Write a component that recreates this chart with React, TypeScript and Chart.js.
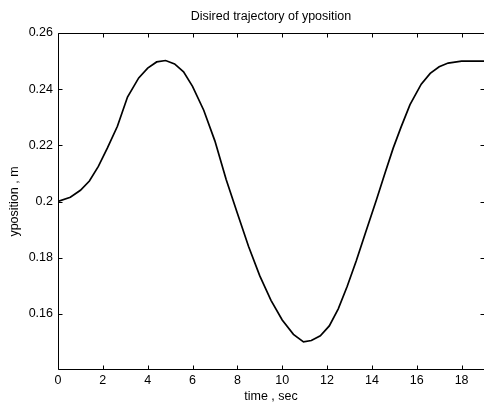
import React, { useEffect, useRef } from 'react';
import { Chart, registerables } from 'chart.js';

Chart.register(...registerables);

// ---- data ----
const timeSec = [
  0, 0.55, 1.0, 1.4, 1.8, 2.2, 2.65, 3.1, 3.6, 4.0, 4.4, 4.8, 5.2, 5.6,
  6.0, 6.5, 7.0, 7.5, 8.0, 8.5, 9.0, 9.5, 10.0, 10.5, 10.95, 11.3, 11.7,
  12.1, 12.5, 12.9, 13.3, 13.7, 14.2, 14.6, 14.95, 15.3, 15.7, 16.2, 16.6,
  17.0, 17.4, 18.0, 19.0,
];
const yPosition = [
  0.2, 0.2015, 0.204, 0.2073, 0.2125, 0.219, 0.2268, 0.2372, 0.244, 0.2475,
  0.2497, 0.2502, 0.249, 0.2462, 0.241, 0.2325, 0.2215, 0.2078, 0.1958,
  0.184, 0.1735, 0.1648, 0.1578, 0.1527, 0.15, 0.1505, 0.1522, 0.1557,
  0.1618, 0.1698, 0.1788, 0.1885, 0.2005, 0.2105, 0.219, 0.2265, 0.2345,
  0.2418, 0.2456, 0.248, 0.2493, 0.25, 0.25,
];
const xTicks = [0, 2, 4, 6, 8, 10, 12, 14, 16, 18];
const yTicks = [0.16, 0.18, 0.2, 0.22, 0.24, 0.26];
const titleText = 'Disired trajectory of yposition';
const xTitle = 'time , sec';
const yTitle = 'yposition , m';

const FONT = '"Liberation Sans", Arial, Helvetica, sans-serif';
const FS = 12.5;

const boxPlugin = {
  id: 'matlabBox',
  afterDraw(chart: any) {
    const { ctx, chartArea, scales } = chart;
    const { left, right, top, bottom } = chartArea;
    const L = Math.round(left) + 0.5;
    const R = Math.round(right) + 0.5;
    const T = Math.round(top) + 0.5;
    const B = Math.round(bottom) - 0.5;
    ctx.save();
    ctx.strokeStyle = '#000';
    ctx.lineWidth = 1;
    ctx.beginPath();
    ctx.moveTo(L, T); ctx.lineTo(R, T);
    ctx.moveTo(L, B); ctx.lineTo(R, B);
    ctx.moveTo(L, T); ctx.lineTo(L, B);
    ctx.moveTo(R, T); ctx.lineTo(R, B);
    const tl = 4;
    xTicks.forEach((v) => {
      const px = Math.round(scales.x.getPixelForValue(v)) + 0.5;
      ctx.moveTo(px, B); ctx.lineTo(px, B - tl);
      ctx.moveTo(px, T); ctx.lineTo(px, T + tl);
    });
    yTicks.forEach((v) => {
      const py = Math.round(scales.y.getPixelForValue(v)) + 0.5;
      ctx.moveTo(L, py); ctx.lineTo(L + tl, py);
      ctx.moveTo(R, py); ctx.lineTo(R - tl, py);
    });
    ctx.stroke();
    ctx.fillStyle = '#000';
    ctx.font = `${FS}px ${FONT}`;
    ctx.textAlign = 'center';
    ctx.textBaseline = 'middle';
    ctx.fillText(titleText, (left + right) / 2, 17);
    ctx.restore();
  },
};

export default function App() {
  const ref = useRef<HTMLCanvasElement | null>(null);
  useEffect(() => {
    if (!ref.current) return;
    const chart = new Chart(ref.current, {
      type: 'line',
      data: {
        datasets: [
          {
            data: timeSec.map((t, i) => ({ x: t, y: yPosition[i] })),
            borderColor: '#000',
            borderWidth: 1.7,
            pointRadius: 0,
            tension: 0,
            fill: false,
          },
        ],
      },
      options: {
        responsive: false,
        animation: false,
        layout: { padding: { top: 33, right: 0, bottom: 0, left: 0 } },
        plugins: {
          legend: { display: false },
          title: { display: false },
          tooltip: { enabled: false },
        },
        scales: {
          x: {
            type: 'linear',
            min: 0,
            max: 19,
            grid: { display: false, drawTicks: false },
            border: { display: false },
            afterBuildTicks: (s: any) => {
              s.ticks = xTicks.map((v) => ({ value: v }));
            },
            afterFit: (s: any) => {
              s.height = 37;
            },
            ticks: {
              color: '#000',
              font: { family: FONT, size: FS },
              padding: 3.5,
              maxRotation: 0,
              autoSkip: false,
              callback: (v: any) => String(v),
            },
            title: {
              display: true,
              text: xTitle,
              color: '#000',
              font: { family: FONT, size: FS },
              padding: { top: 0, bottom: 3 },
            },
          },
          y: {
            type: 'linear',
            min: 0.14,
            max: 0.26,
            grid: { display: false, drawTicks: false },
            border: { display: false },
            afterBuildTicks: (s: any) => {
              s.ticks = yTicks.map((v) => ({ value: v }));
            },
            afterFit: (s: any) => {
              s.width = 58;
            },
            ticks: {
              color: '#000',
              font: { family: FONT, size: FS },
              padding: 5,
              autoSkip: false,
              callback: (v: any) => String(+Number(v).toFixed(2)),
            },
            title: {
              display: true,
              text: yTitle,
              color: '#000',
              font: { family: FONT, size: FS },
              padding: { top: 7.5, bottom: 0 },
            },
          },
        },
      },
      plugins: [boxPlugin],
    } as any);
    return () => chart.destroy();
  }, []);
  return (
    <div style={{ position: 'absolute', left: 0, top: 0, width: 484, height: 407, background: '#fff' }}>
      <canvas ref={ref} width={484} height={407} style={{ display: 'block' }} />
    </div>
  );
}
